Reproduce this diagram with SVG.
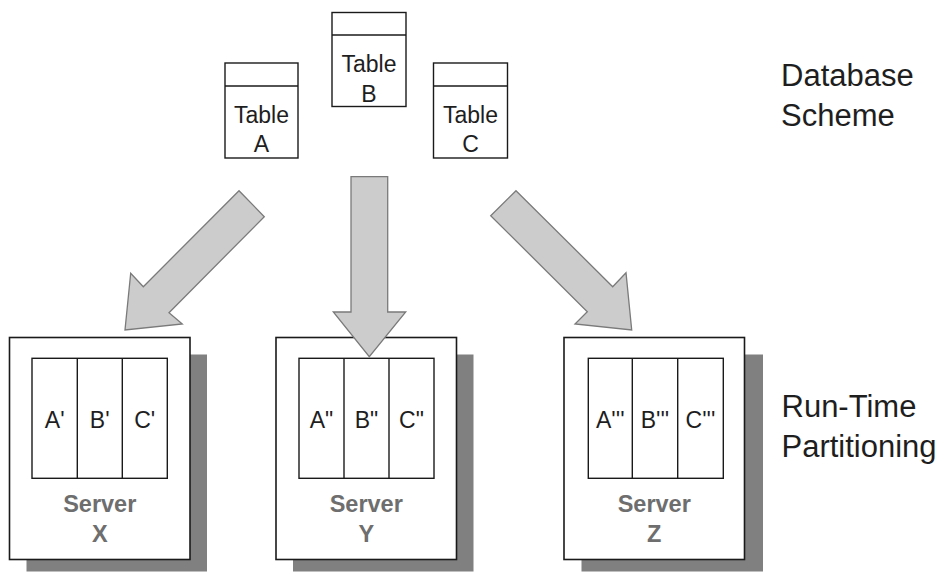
<svg xmlns="http://www.w3.org/2000/svg" width="941" height="573" viewBox="0 0 941 573">
<style>
.bg{fill:#ffffff}
.tbl{fill:#ffffff;stroke:#1a1a1a;stroke-width:1.4}
.ln{stroke:#1a1a1a;stroke-width:1.4;fill:none}
.t{font-family:"Liberation Sans",Arial,sans-serif;font-size:23px;fill:#1e1e1e;text-anchor:middle}
.lbl{font-family:"Liberation Sans",Arial,sans-serif;font-size:31px;fill:#1e1e1e}
.srv{font-family:"Liberation Sans",Arial,sans-serif;font-size:23.5px;font-weight:bold;fill:#6e6e6e;text-anchor:middle}
.shadow{fill:#808080}
.outer{fill:#ffffff;stroke:#1a1a1a;stroke-width:1.6}
.arrow{fill:#cccccc;stroke:#7a7a7a;stroke-width:1.3;stroke-linejoin:miter}
</style>
<rect class="bg" x="0" y="0" width="941" height="573"/>

<g id="tableA">
<rect class="tbl" x="225" y="63" width="73" height="95"/>
<line class="ln" x1="225" y1="86" x2="298" y2="86"/>
<text class="t" x="261.5" y="122.5">Table</text>
<text class="t" x="261.5" y="152.3">A</text>
</g>
<g id="tableB">
<rect class="tbl" x="332" y="12.5" width="74" height="94"/>
<line class="ln" x1="332" y1="35" x2="406" y2="35"/>
<text class="t" x="369" y="71.7">Table</text>
<text class="t" x="369" y="101.7">B</text>
</g>
<g id="tableC">
<rect class="tbl" x="433.5" y="63" width="74" height="95"/>
<line class="ln" x1="433.5" y1="86" x2="507.5" y2="86"/>
<text class="t" x="470.5" y="122.5">Table</text>
<text class="t" x="470.5" y="152.3">C</text>
</g>

<g id="labelDB">
<text class="lbl" x="781" y="85.7">Database</text>
<text class="lbl" x="781" y="125.7">Scheme</text>
</g>
<g id="labelRT">
<text class="lbl" x="781.5" y="416.7">Run-Time</text>
<text class="lbl" x="781.5" y="456.7">Partitioning</text>
</g>

<g id="serverX">
<rect class="shadow" x="26.5" y="354.5" width="180.5" height="217"/>
<rect class="outer" x="9.5" y="337.5" width="180.5" height="222"/>
<rect class="tbl" x="32" y="358.3" width="135.3" height="120"/>
<line class="ln" x1="77.3" y1="358.3" x2="77.3" y2="478.3"/>
<line class="ln" x1="122.3" y1="358.3" x2="122.3" y2="478.3"/>
<text class="t" x="54.7" y="428.3">A'</text>
<text class="t" x="99.7" y="428.3">B'</text>
<text class="t" x="144.7" y="428.3">C'</text>
<text class="srv" x="99.75" y="511.7">Server</text>
<text class="srv" x="99.75" y="541.7">X</text>
</g>
<g id="serverY">
<rect class="shadow" x="293" y="354.5" width="180.5" height="217"/>
<rect class="outer" x="276" y="337.5" width="180.5" height="222"/>
<rect class="tbl" x="299" y="358.3" width="135" height="120"/>
<line class="ln" x1="344" y1="358.3" x2="344" y2="478.3"/>
<line class="ln" x1="389" y1="358.3" x2="389" y2="478.3"/>
<text class="t" x="321.5" y="428.3">A"</text>
<text class="t" x="366.5" y="428.3">B"</text>
<text class="t" x="411.5" y="428.3">C"</text>
<text class="srv" x="366.25" y="511.7">Server</text>
<text class="srv" x="366.25" y="541.7">Y</text>
</g>
<g id="serverZ">
<rect class="shadow" x="581.5" y="354.5" width="181.5" height="217"/>
<rect class="outer" x="564" y="337.5" width="180.5" height="222"/>
<rect class="tbl" x="588.3" y="358.3" width="135" height="120"/>
<line class="ln" x1="632.3" y1="358.3" x2="632.3" y2="478.3"/>
<line class="ln" x1="677.7" y1="358.3" x2="677.7" y2="478.3" stroke-width="2.4"/>
<text class="t" x="610.3" y="428.3">A'''</text>
<text class="t" x="655" y="428.3">B'''</text>
<text class="t" x="700.5" y="428.3">C'''</text>
<text class="srv" x="654.25" y="511.7">Server</text>
<text class="srv" x="654.25" y="541.7">Z</text>
</g>

<g id="connectors">
<polygon class="arrow" points="239,190.7 143.3,286.7 130.7,273.3 125,330 182.3,324 169,312.7 264.3,216.7"/>
<polygon class="arrow" points="351,176.7 351,312 333.3,312 369.3,356.7 405.7,312 387.7,312 387.7,176.7"/>
<polygon class="arrow" points="516,190.7 612.7,286.7 626,272.7 631.7,330 575,324 587.3,311.7 490.7,215.7"/>
</g>
</svg>
